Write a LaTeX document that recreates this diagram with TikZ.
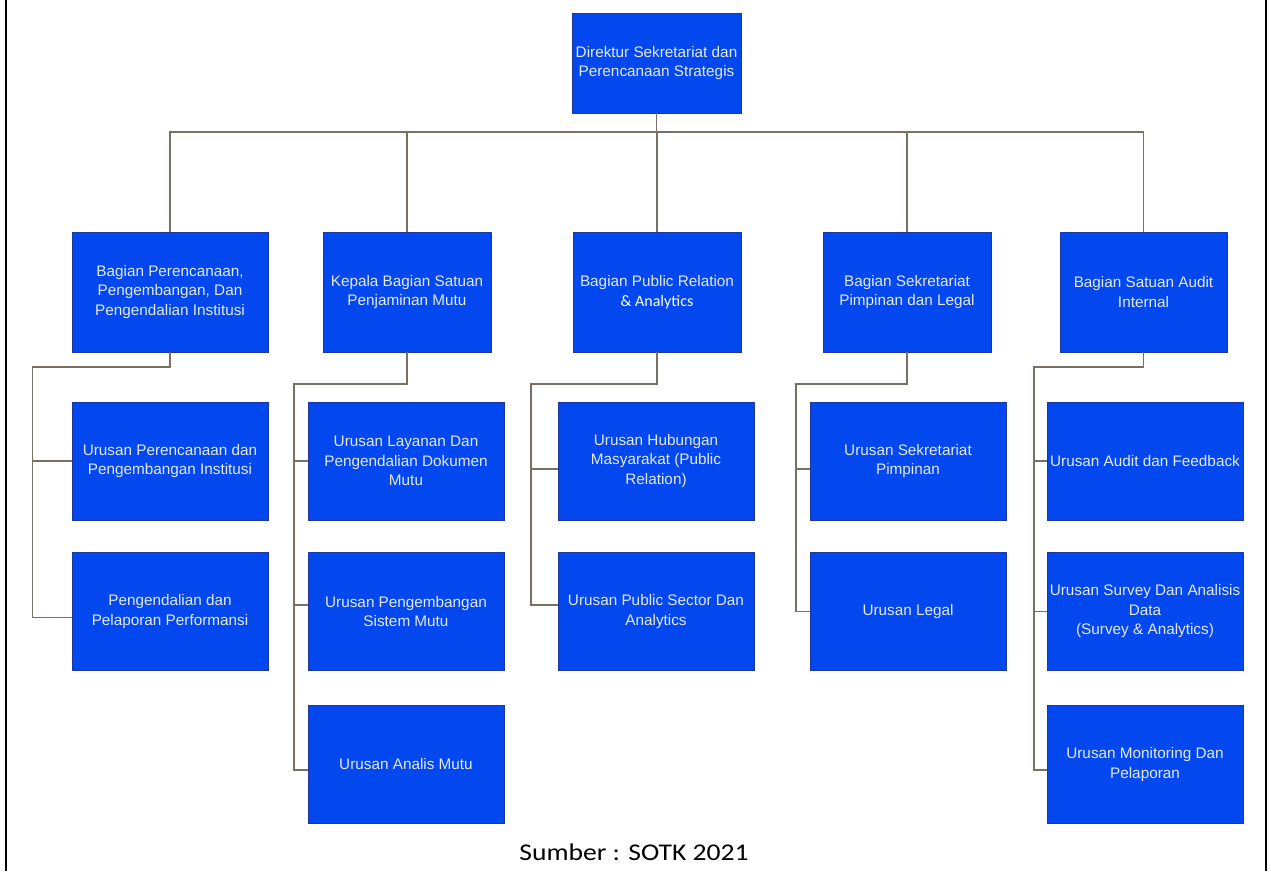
\documentclass[tikz,border=0pt]{standalone}
\usepackage{fontspec}
\setmainfont{Liberation Sans}
\newfontfamily\carlito{Carlito}
\definecolor{boxblue}{RGB}{2,72,238}
\definecolor{boxedge}{RGB}{30,55,160}
\definecolor{linkgray}{RGB}{120,112,100}
\definecolor{boxtext}{RGB}{228,233,248}
\tikzset{
  unit/.style={draw=boxedge, line width=0.8pt, fill=boxblue, text=boxtext,
    align=center, inner sep=0pt, font=\fontsize{15.3}{19.5}\selectfont},
  headbox/.style={unit, minimum width=169pt, minimum height=100pt},
  deptbox/.style={unit, minimum width=#1, minimum height=120pt},
  subbox/.style={unit, minimum width=196pt, minimum height=118pt},
  link/.style={draw=linkgray, line width=1.1pt},
}
\begin{document}
\begin{tikzpicture}[x=1pt,y=-1pt]
\useasboundingbox (0,0) rectangle (1271,871);
% page frame, left and right sides
\draw[black, line width=2pt] (6,0) -- (6,871);
\draw[black, line width=2pt] (1266,0) -- (1266,871);

% director
\node[headbox] (top) at (656.5,63) {Direktur Sekretariat dan\\Perencanaan Strategis};

% departments
\node[deptbox=196pt] (pa) at (170,292) {Bagian Perencanaan,\\Pengembangan, Dan\\Pengendalian Institusi};
\node[deptbox=168pt] (pb) at (407,292) {Kepala Bagian Satuan\\Penjaminan Mutu};
\node[deptbox=168pt] (pc) at (657,292) {Bagian Public Relation\\{\carlito\fontsize{16}{19}\selectfont\color{white}\& Analytics}};
\node[deptbox=168pt] (pd) at (907,292) {Bagian Sekretariat\\Pimpinan dan Legal};
\node[deptbox=167pt] (pe) at (1143.5,292) {Bagian Satuan Audit\\Internal};

% sections
\node[subbox] (a1) at (170,461) {Urusan Perencanaan dan\\Pengembangan Institusi};
\node[subbox] (a2) at (170,611.5) {Pengendalian dan\\Pelaporan Performansi};

\node[subbox] (b1) at (406,461) {Urusan Layanan Dan\\Pengendalian Dokumen\\Mutu};
\node[subbox] (b2) at (406,611.5) {Urusan Pengembangan\\Sistem Mutu};
\node[subbox] (b3) at (406,764.5) {Urusan Analis Mutu};

\node[subbox] (c1) at (656,461) {Urusan Hubungan\\Masyarakat (Public\\Relation)};
\node[subbox] (c2) at (656,611.5) {Urusan Public Sector Dan\\Analytics};

\node[subbox] (d1) at (908,461) {Urusan Sekretariat\\Pimpinan};
\node[subbox] (d2) at (908,611.5) {Urusan Legal};

\node[subbox] (e1) at (1145,461) {Urusan Audit dan Feedback};
\node[subbox] (e2) at (1145,611.5) {Urusan Survey Dan Analisis\\Data\\(Survey \& Analytics)};
\node[subbox] (e3) at (1145,764.5) {Urusan Monitoring Dan\\Pelaporan};

% director to departments
\coordinate (bus) at (0,132);
\draw[link] (top.south) -- (top.south |- bus);
\draw[link] (pa.north) |- (pe.north |- bus) -- (pe.north);
\draw[link] (pb.north) -- (pb.north |- bus);
\draw[link] (pc.north) -- (pc.north |- bus);
\draw[link] (pd.north) -- (pd.north |- bus);

% trunks of each department
\coordinate (ta) at (32.5,367);
\coordinate (tb) at (294,384);
\coordinate (tc) at (531,384);
\coordinate (td) at (796,384);
\coordinate (te) at (1034,367);

\draw[link] (pa.south) |- (ta) |- ([yshift=-6pt]a2.west);
\draw[link] (a1.west) -- (a1.west -| ta);

\draw[link] (pb.south) |- (tb) |- ([yshift=-5.5pt]b3.west);
\draw[link] (b1.west) -- (b1.west -| tb);
\draw[link] ([yshift=6.5pt]b2.west) -- ([yshift=6.5pt]b2.west -| tb);

\draw[link] (pc.south) |- (tc) |- ([yshift=6.5pt]c2.west);
\draw[link] ([yshift=-8pt]c1.west) -- ([yshift=-8pt]c1.west -| tc);

\draw[link] (pd.south) |- (td) |- (d2.west);
\draw[link] ([yshift=-8pt]d1.west) -- ([yshift=-8pt]d1.west -| td);

\draw[link] (pe.south) |- (te) |- ([yshift=-5.5pt]e3.west);
\draw[link] (e1.west) -- (e1.west -| te);
\draw[link] (e2.west) -- (e2.west -| te);

% source line
\node[font=\carlito\fontsize{24}{28}\selectfont, inner sep=0pt, xscale=1.15, transform shape] (cap) at (634,852) {Sumber : SOTK 2021};
\end{tikzpicture}
\end{document}
